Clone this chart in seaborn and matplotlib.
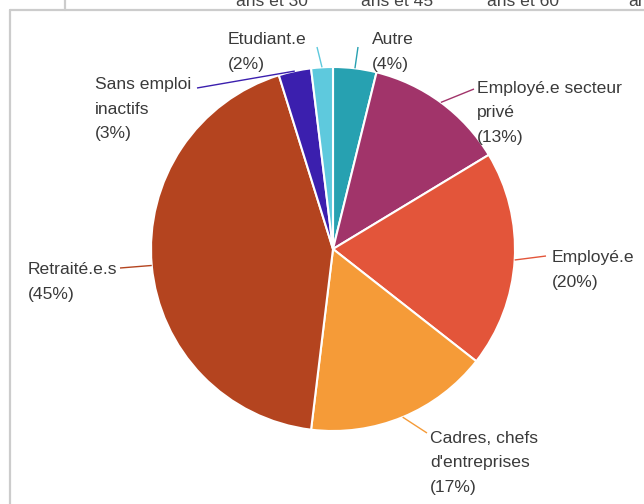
import matplotlib
matplotlib.use("Agg")
import matplotlib.pyplot as plt
import seaborn as sns
import numpy as np

# Slice data (clockwise from 12 o'clock)
categories = ["Autre", "Employé.e secteur\nprivé", "Employé.e",
              "Cadres, chefs\nd'entreprises", "Retraité.e.s",
              "Sans emploi\ninactifs", "Etudiant.e"]
percent = [4, 13, 20, 17, 45, 3, 2]
colors = ["#27a1b1", "#a1346a", "#e3553a", "#f59b38", "#b4441f", "#3b1fae", "#5ec9dd"]

# Column headers of the table above the chart (mostly scrolled out of view)
header_labels = ["ans et 30", "ans et 45", "ans et 60", "ans"]
header_x = [236, 361, 487, 628]

W, H = 644, 504
sns.set_theme(style="white")
plt.rcParams["font.family"] = ["Liberation Sans", "DejaVu Sans"]

fig = plt.figure(figsize=(W / 100, H / 100), dpi=100)
ax = fig.add_axes([0, 0, 1, 1])

cx, cy, R = 333, 249, 182
wedges, _ = ax.pie(percent, colors=colors, startangle=90, counterclock=False,
                   center=(cx, H - cy), radius=R,
                   wedgeprops=dict(edgecolor="white", linewidth=1.5))
ax.set_xlim(0, W)
ax.set_ylim(0, H)
ax.set_aspect("equal")
ax.axis("off")

# label placement: (text x, first baseline y, leader end x, leader end y) in pixels from top-left
label_pos = [
    (372, 44, 358, 47),
    (477, 93, 474, 89),
    (552, 262, 546, 256),
    (430, 443, 427, 433),
    (28, 274, 120, 268),
    (95, 89, 197, 88),
    (228, 44, 317, 47),
]
line_gap = 24.5
text_color = "#3a3a3a"
fs = 12.6

for w, cat, p, (tx, ty, lx, ly), col in zip(wedges, categories, percent, label_pos, colors):
    mid = np.deg2rad((w.theta1 + w.theta2) / 2)
    sx = cx + R * np.cos(mid)
    sy = (H - cy) + R * np.sin(mid)
    ax.plot([sx, lx], [sy, H - ly], color=col, lw=1.0, solid_capstyle="butt")
    lines = cat.split("\n") + [f"({p}%)"]
    for i, ln in enumerate(lines):
        ax.text(tx, H - (ty + i * line_gap), ln, fontsize=fs, color=text_color,
                ha="left", va="baseline")

# surrounding frame of the chart container
frame_col = "#cccccc"
ax.plot([10, 10], [H - 10, 0], color=frame_col, lw=1.6, clip_on=False)
ax.plot([10, W], [H - 10, H - 10], color=frame_col, lw=1.6, clip_on=False)
ax.plot([65, 65], [H, H - 10], color=frame_col, lw=1.6, clip_on=False)

for hx, ht in zip(header_x, header_labels):
    ax.text(hx, H - 6, ht, fontsize=fs, color="#444444", ha="left", va="baseline")

fig.savefig("out.png", dpi=100)
